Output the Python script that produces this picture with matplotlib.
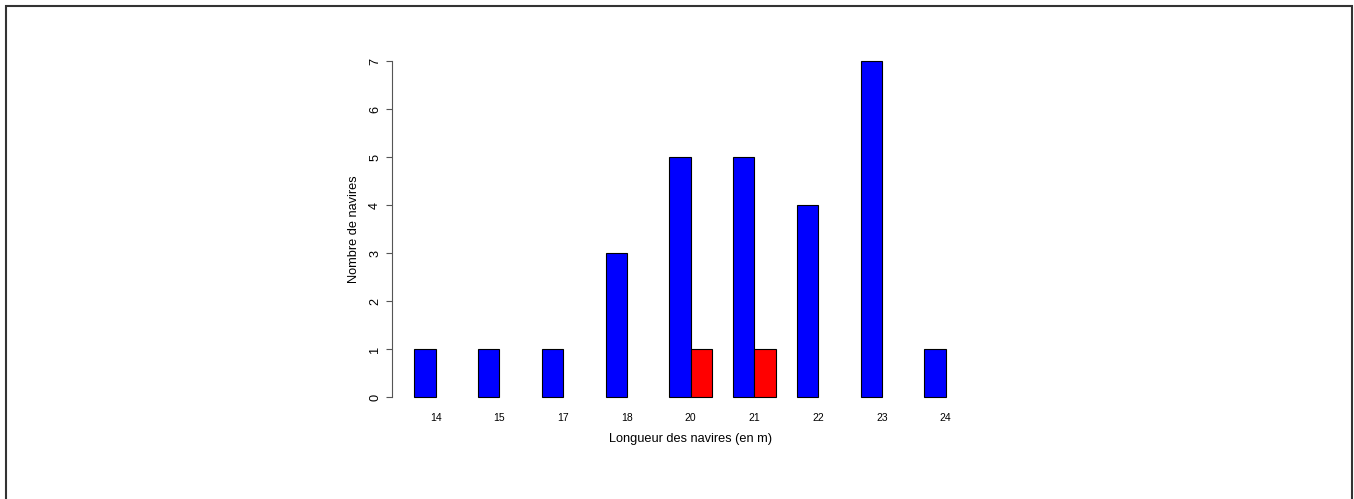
import numpy as np
import matplotlib
matplotlib.use("Agg")
import matplotlib.pyplot as plt
from matplotlib.patches import Rectangle

# ship lengths (m) and counts for the two groups
lengths = ["14", "15", "17", "18", "20", "21", "22", "23", "24"]
counts_blue = [1, 1, 1, 3, 5, 5, 4, 7, 1]
counts_red = [0, 0, 0, 0, 1, 1, 0, 0, 0]

plt.rcParams['font.family'] = ['Liberation Sans', 'DejaVu Sans']

fig = plt.figure(figsize=(13.54, 4.99), dpi=100)
ax = fig.add_axes([0.2897, 0.1770, 0.4407, 0.7271])

# R-style grouped barplot: each group = 2 bars of width 1, plus a gap of 1
n = len(lengths)
left = 1 + 3 * np.arange(n)
ax.bar(left, counts_blue, width=1, align="edge", color="#0000ff",
       edgecolor="black", linewidth=0.8)
red = np.array(counts_red)
mask = red > 0
ax.bar(left[mask] + 1, red[mask], width=1, align="edge", color="#ff0000",
       edgecolor="black", linewidth=0.8)

ax.set_xlim(-0.04, 28.04)
ax.set_ylim(-0.28, 7.28)

for s in ["top", "right", "bottom"]:
    ax.spines[s].set_visible(False)
ax.spines["left"].set_bounds(0, 7)
ax.spines["left"].set_color("#555555")
ax.spines["left"].set_linewidth(0.8)

ax.set_yticks(range(8))
ax.set_yticklabels([str(i) for i in range(8)], rotation=90, va="center",
                   fontsize=9.2)
ax.tick_params(axis="y", length=4.5, width=0.8, color="#555555", pad=3.5)

ax.set_xticks(left + 1)
ax.set_xticklabels(lengths, fontsize=7.5)
ax.tick_params(axis="x", length=0, pad=2)

ax.set_xlabel("Longueur des navires (en m)", fontsize=9.2, labelpad=7)
ax.set_ylabel("Nombre de navires", fontsize=9.2, labelpad=6.5)

# outer frame around the figure
fig.patches.append(Rectangle((6 / 1354, -0.05), 1346 / 1354, 1.05 - 6 / 499,
                             transform=fig.transFigure, fill=False,
                             edgecolor="#333333", linewidth=1.5))

fig.savefig("out.png", dpi=100)
